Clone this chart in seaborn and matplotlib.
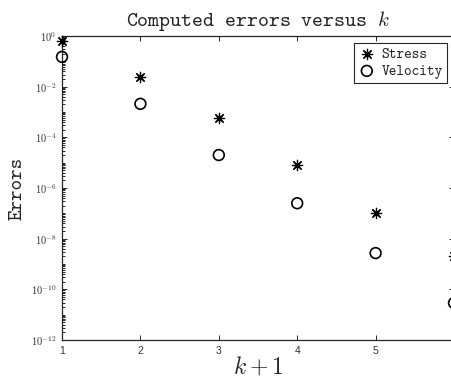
import numpy as np
import pandas as pd
import matplotlib
matplotlib.use("Agg")
import matplotlib.pyplot as plt
import matplotlib.ticker as mticker
import seaborn as sns

# values
k_plus_1 = [1, 2, 3, 4, 5, 6]
stress_err = [6.3e-1, 2.4e-2, 5.8e-4, 8.0e-6, 1.0e-7, 2.1e-9]
velocity_err = [1.5e-1, 2.1e-3, 2.0e-5, 2.5e-7, 2.7e-9, 2.9e-11]
x_ticks = [1, 2, 3, 4, 5]
y_major = [10.0 ** e for e in range(0, -13, -2)]

df = pd.DataFrame({"k1": k_plus_1, "Stress": stress_err, "Velocity": velocity_err})

sns.set_style("ticks")
plt.rcParams["mathtext.fontset"] = "cm"
plt.rcParams["font.family"] = ["Liberation Sans", "DejaVu Sans"]
plt.rcParams["xtick.direction"] = "in"
plt.rcParams["ytick.direction"] = "in"

W, H = 451, 381
fig = plt.figure(figsize=(W / 100, H / 100), dpi=100)
# right spine sits just past the image edge, as in the (cropped) reference
ax = fig.add_axes([62 / W, 41 / H, (454 - 62) / W, (340 - 36) / H])

sns.scatterplot(data=df, x="k1", y="Stress", marker=(8, 2, 0), s=55,
                color="k", linewidth=0.9, label="Stress", ax=ax, zorder=3,
                clip_on=False)
sns.scatterplot(data=df, x="k1", y="Velocity", marker="o", s=60,
                facecolor="none", edgecolor="k", color="k", linewidth=1.2,
                label="Velocity", ax=ax, zorder=3, clip_on=False)

ax.set_yscale("log")
ax.set_xlim(1, 6)
ax.set_ylim(1e-12, 1)
ax.set_xticks(x_ticks)
ax.set_yticks(y_major)
ax.yaxis.set_major_formatter(
    mticker.FuncFormatter(lambda v, p: r"$\mathsf{10^{%d}}$" % round(np.log10(v))))
ax.yaxis.set_minor_locator(mticker.LogLocator(base=10, subs=np.arange(1, 10), numticks=40))
ax.yaxis.set_minor_formatter(mticker.NullFormatter())

spine_col = "#262626"
for s in ax.spines.values():
    s.set_visible(True)
    s.set_color(spine_col)
    s.set_linewidth(0.9)
ax.tick_params(which="both", top=True, right=True, color=spine_col,
               labelcolor="#333333", labelsize=7.5, width=0.7)
ax.tick_params(which="major", length=3.5, pad=4)
ax.tick_params(which="minor", length=1.8)
ax.tick_params(axis="x", pad=4)

ax.set_title("Computed errors versus $k$", family="cmtt10", fontsize=15, pad=7)
ax.set_ylabel("Errors", family="cmtt10", fontsize=14.5, labelpad=3)
ax.set_xlabel("$k+1$", fontsize=17, labelpad=0)

leg = ax.legend(loc="upper right", bbox_to_anchor=(447 / W, (381 - 43) / H),
                bbox_transform=fig.transFigure, fancybox=False, framealpha=1,
                edgecolor=spine_col, borderaxespad=0, handletextpad=0.4,
                handlelength=1.2, borderpad=0.3, labelspacing=0.2,
                prop={"family": "cmtt10", "size": 10.5})
leg.get_frame().set_linewidth(0.8)

fig.savefig("out.png", dpi=100)
